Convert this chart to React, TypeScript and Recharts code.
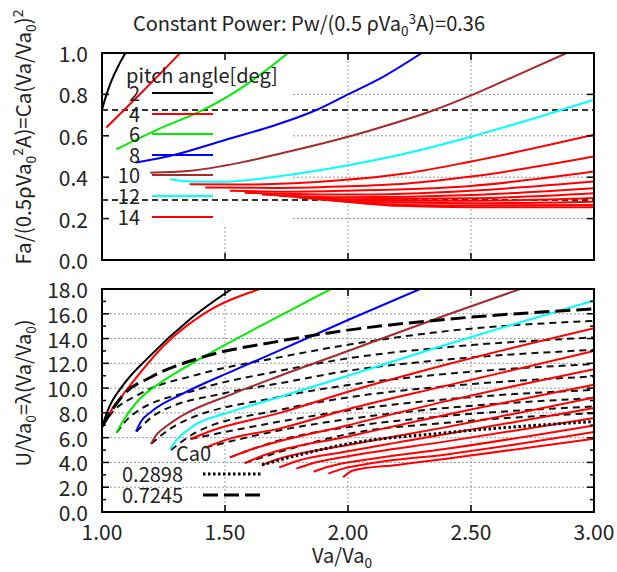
import React from 'react';
import { LineChart, Line, XAxis, YAxis, CartesianGrid, ReferenceLine } from 'recharts';

const FONT = "'Noto Sans CJK JP', 'Noto Sans', sans-serif";

// axes
const X_TICKS = [1.0, 1.5, 2.0, 2.5, 3.0];
const CA_TICKS = [0, 0.2, 0.4, 0.6, 0.8, 1.0];
const LAMBDA_TICKS = [0, 1, 2, 3, 4, 5, 6, 7, 8, 9, 10, 11, 12, 13, 14, 15, 16, 17, 18];
const LAMBDA_GRID = [2, 4, 6, 8, 10, 12, 14, 16];

// pitch angles, the legend only names the first seven
const PITCH_ANGLES = [2, 4, 6, 8, 10, 12, 14, 16, 18, 20, 22, 24, 26, 28, 30, 32];
const LEGEND_PITCH = [2, 4, 6, 8, 10, 12, 14];
const PITCH_COLORS = ['#000000', '#ff0000', '#00ee00', '#0000ff', '#a52a2a', '#00ffff',
  '#ff0000', '#ff0000', '#ff0000', '#ff0000', '#ff0000', '#ff0000', '#ff0000', '#ff0000', '#ff0000', '#ff0000'];

const CA0_LEVELS = [0.2898, 0.7245];

// Fa/(0.5 rho Va0^2 A) vs Va/Va0, one curve per pitch angle
const caCurves = [
  [[1.0, 0.726], [1.02, 0.806], [1.095, 1.0]],
  [[1.0175, 0.64], [1.17, 0.82], [1.318, 1.0]],
  [[1.058, 0.535], [1.223, 0.629], [1.413, 0.726], [1.59, 0.85], [1.756, 1.0]],
  [[1.138, 0.471], [1.3, 0.51], [1.5, 0.58], [1.7, 0.65], [1.874, 0.726], [2.0, 0.8], [2.15, 0.89], [2.3, 1.0]],
  [[1.196, 0.422], [1.35, 0.43], [1.494, 0.455], [1.765, 0.525], [2.0, 0.595], [2.144, 0.645], [2.354, 0.726], [2.51, 0.8], [2.672, 0.885], [2.889, 1.0]],
  [[1.277, 0.39], [1.36, 0.379], [1.5, 0.378], [1.72, 0.405], [2.0, 0.458], [2.239, 0.516], [2.503, 0.597], [2.781, 0.693], [3.0, 0.774]],
  [[1.356, 0.366], [1.6, 0.365], [1.968, 0.385], [2.239, 0.419], [2.5, 0.476], [3.0, 0.605]],
  [[1.42, 0.35], [1.7, 0.348], [1.968, 0.355], [2.24, 0.37], [2.5, 0.403], [3.0, 0.5]],
  [[1.52, 0.335], [1.75, 0.33], [2.0, 0.335], [2.5, 0.358], [3.0, 0.427]],
  [[1.58, 0.325], [2.0, 0.316], [2.5, 0.335], [3.0, 0.379]],
  [[1.65, 0.317], [2.0, 0.303], [2.5, 0.314], [3.0, 0.347]],
  [[1.72, 0.31], [2.0, 0.293], [2.5, 0.298], [3.0, 0.323]],
  [[1.79, 0.303], [2.0, 0.286], [2.5, 0.286], [3.0, 0.3]],
  [[1.86, 0.297], [2.05, 0.279], [2.5, 0.274], [3.0, 0.282]],
  [[1.92, 0.292], [2.1, 0.271], [2.5, 0.263], [3.0, 0.266]],
  [[1.98, 0.288], [2.2, 0.262], [2.5, 0.255], [3.0, 0.255]],
];

// U/Va0 vs Va/Va0, same pitch angles
const lambdaCurves = [
  [[1.0, 6.9], [1.03, 8.5], [1.088, 10.3], [1.19, 12.5], [1.36, 15.6], [1.527, 18]],
  [[1.018, 7.4], [1.04, 8.3], [1.086, 9.5], [1.255, 13.5], [1.418, 16.05], [1.642, 18]],
  [[1.058, 6.37], [1.087, 7.4], [1.147, 9.0], [1.25, 10.6], [1.392, 12.3], [1.724, 15.85], [1.93, 18]],
  [[1.138, 6.5], [1.16, 7.35], [1.2, 8.1], [1.323, 9.5], [1.527, 11.35], [1.724, 13.06], [2.0, 15.5], [2.293, 18]],
  [[1.199, 5.48], [1.22, 6.2], [1.26, 6.9], [1.323, 7.75], [1.527, 9.5], [1.724, 11.0], [2.0, 13.0], [2.4, 15.9], [2.7, 18]],
  [[1.276, 5.03], [1.3, 5.75], [1.34, 6.5], [1.392, 7.2], [1.5, 7.95], [1.724, 9.3], [2.0, 11.0], [2.375, 13.36], [2.687, 15.24], [3.0, 17.07]],
  [[1.36, 5.9], [1.45, 6.6], [1.724, 8.0], [2.0, 9.7], [2.4, 11.9], [3.0, 14.84]],
  [[1.42, 5.2], [1.5, 5.8], [1.724, 6.75], [2.0, 8.3], [2.4, 10.2], [3.0, 13.0]],
  [[1.52, 4.41], [1.6, 5.0], [2.0, 7.0], [2.4, 8.95], [3.0, 11.53]],
  [[1.58, 3.95], [1.66, 4.6], [2.0, 6.1], [2.4, 7.85], [3.0, 10.27]],
  [[1.65, 3.8], [1.72, 4.3], [2.0, 5.4], [2.4, 6.85], [3.0, 9.25]],
  [[1.72, 3.6], [1.79, 4.1], [2.0, 4.9], [2.4, 6.3], [3.0, 8.39]],
  [[1.79, 3.5], [1.85, 3.9], [2.0, 4.5], [2.4, 5.7], [3.0, 7.58]],
  [[1.86, 3.25], [1.92, 3.65], [2.1, 4.3], [2.4, 5.1], [3.0, 6.99]],
  [[1.92, 3.1], [1.98, 3.5], [2.1, 3.95], [2.4, 4.65], [3.0, 6.45]],
  [[1.98, 2.8], [2.02, 3.35], [2.2, 3.8], [2.4, 4.3], [3.0, 5.91]],
];

// constant Ca0 curves in the lower panel
const lambdaCa0High = [[1.0, 6.9], [1.087, 9.46], [1.2, 10.9], [1.392, 12.4], [1.724, 13.8], [2.0, 14.68], [2.4, 15.55], [3.0, 16.4]];
const lambdaCa0Low = [[1.65, 3.8], [1.8, 4.6], [2.0, 5.5], [2.4, 6.4], [3.0, 7.31]];
const lambdaCa0Mid = [
  [[1.0, 6.9], [1.04, 8.0], [1.15, 9.5], [1.39, 11.1], [1.724, 12.5], [2.0, 13.5], [2.4, 14.6], [3.0, 15.43]],
  [[1.06, 6.4], [1.12, 7.8], [1.39, 9.9], [1.724, 11.4], [2.0, 12.4], [2.4, 13.3], [3.0, 14.09]],
  [[1.14, 6.5], [1.22, 7.9], [1.5, 9.6], [1.724, 10.4], [2.0, 11.4], [2.4, 12.3], [3.0, 13.09]],
  [[1.2, 5.5], [1.3, 7.0], [1.724, 9.3], [2.0, 10.25], [2.4, 11.15], [3.0, 11.94]],
  [[1.28, 5.0], [1.38, 6.4], [1.724, 8.25], [2.0, 9.25], [2.4, 10.15], [3.0, 10.94]],
  [[1.36, 5.9], [1.724, 7.3], [2.0, 8.2], [2.4, 9.1], [3.0, 9.86]],
  [[1.42, 5.2], [1.724, 6.6], [2.0, 7.5], [2.4, 8.4], [3.0, 9.19]],
  [[1.52, 4.41], [1.724, 5.8], [2.0, 6.85], [2.4, 7.75], [3.0, 8.52]],
  [[1.58, 3.95], [1.8, 5.3], [2.0, 6.3], [2.4, 7.2], [3.0, 7.98]],
];

// layout (page pixels)
const W = 617;
const H = 572;
const PLOT_L = 102;
const PLOT_R = 594;
const TOP_T = 53;
const TOP_B = 260;
const BOT_T = 289;
const BOT_B = 512;
const KEY_R = 293; // the key box hides the grid in the upper panel
const KEY_B = 227;

const toPts = (pts: number[][]) => pts.map(([x, y]) => ({ x, y }));

const Sub = ({ children }: { children: React.ReactNode }) => (
  <span style={{ fontSize: '0.68em', position: 'relative', top: '0.35em' }}>{children}</span>
);
const Sup = ({ children }: { children: React.ReactNode }) => (
  <span style={{ fontSize: '0.68em', position: 'relative', top: '-0.55em' }}>{children}</span>
);

const tickText = { fontSize: 21, fontFamily: FONT, fill: '#222' };

const makeYTick = (major: (v: number) => boolean, fmt: (v: number) => string) => (props: any) => {
  const { payload } = props;
  const y = payload.coordinate ?? props.y;
  const v = payload.value;
  const isMajor = major(v);
  const len = isMajor ? 7 : 4;
  return (
    <g>
      <line x1={PLOT_L} x2={PLOT_L + len} y1={y} y2={y} stroke="#000" strokeWidth={1.5} />
      <line x1={PLOT_R - len} x2={PLOT_R} y1={y} y2={y} stroke="#000" strokeWidth={1.5} />
      {isMajor && (
        <text x={PLOT_L - 14} y={y} textAnchor="end" dominantBaseline="central" {...tickText}>
          {fmt(v)}
        </text>
      )}
    </g>
  );
};

const makeXTick = (top: number, bottom: number, withLabel: boolean) => (props: any) => {
  const { payload } = props;
  const x = payload.coordinate ?? props.x;
  return (
    <g>
      <line x1={x} x2={x} y1={bottom} y2={bottom - 7} stroke="#000" strokeWidth={1.5} />
      <line x1={x} x2={x} y1={top} y2={top + 7} stroke="#000" strokeWidth={1.5} />
      {withLabel && (
        <text x={x} y={bottom + 28} textAnchor="middle" {...tickText}>
          {payload.value.toFixed(2)}
        </text>
      )}
    </g>
  );
};

// grid of the upper panel, cut away where the key sits
const topHGrid = (p: any) => (
  <line key={`h${p.y1}`} x1={Math.max(p.x1, KEY_R)} x2={p.x2} y1={p.y1} y2={p.y2}
    stroke="#999" strokeDasharray="2 2" strokeWidth={1} />
);
const topVGrid = (p: any) => (
  <line key={`v${p.x1}`} x1={p.x1} x2={p.x2} y1={p.x1 < KEY_R ? KEY_B : p.y1} y2={p.y2}
    stroke="#999" strokeDasharray="2 2" strokeWidth={1} />
);

const frame = (top: number, bottom: number): React.CSSProperties => ({
  position: 'absolute', left: PLOT_L - 1, top: top - 1, width: PLOT_R - PLOT_L + 2,
  height: bottom - top + 2, border: '2px solid #000', boxSizing: 'border-box', pointerEvents: 'none',
});

const legendRowY = (i: number) => 93 + i * 20.6;

export default function App() {
  return (
    <div style={{ position: 'absolute', left: 0, top: 0, width: W, height: H, background: '#fff', fontFamily: FONT, color: '#222' }}>
      {/* upper panel */}
      <div style={{ position: 'absolute', left: 0, top: 0 }}>
        <LineChart width={W} height={H} margin={{ top: TOP_T, right: W - PLOT_R, left: PLOT_L - 60, bottom: H - TOP_B - 20 }}>
          <CartesianGrid horizontal={topHGrid} vertical={topVGrid} />
          <XAxis type="number" dataKey="x" domain={[1, 3]} ticks={X_TICKS} interval={0} height={20}
            axisLine={false} tickLine={false} tickSize={0} tick={makeXTick(TOP_T, TOP_B, false)} allowDataOverflow />
          <YAxis type="number" domain={[0, 1]} ticks={CA_TICKS} interval={0} width={60}
            axisLine={false} tickLine={false} tickSize={0} allowDataOverflow
            tick={makeYTick(() => true, (v) => v.toFixed(1))} />
          {CA0_LEVELS.map((c) => (
            <ReferenceLine key={c} y={c} stroke="#333" strokeWidth={2} strokeDasharray="6 4" />
          ))}
          {caCurves.map((pts, i) => (
            <Line key={PITCH_ANGLES[i]} data={toPts(pts)} dataKey="y" type="monotone" stroke={PITCH_COLORS[i]}
              strokeWidth={2} dot={false} activeDot={false} isAnimationActive={false} />
          ))}
        </LineChart>
      </div>

      {/* lower panel */}
      <div style={{ position: 'absolute', left: 0, top: 0 }}>
        <LineChart width={W} height={H} margin={{ top: BOT_T, right: W - PLOT_R, left: PLOT_L - 60, bottom: H - BOT_B - 40 }}>
          <CartesianGrid horizontalValues={LAMBDA_GRID} verticalValues={[1.5, 2.0, 2.5]}
            stroke="#999" strokeDasharray="2 2" />
          <XAxis type="number" dataKey="x" domain={[1, 3]} ticks={X_TICKS} interval={0} height={40}
            axisLine={false} tickLine={false} tickSize={0} tick={makeXTick(BOT_T, BOT_B, true)} allowDataOverflow />
          <YAxis type="number" domain={[0, 18]} ticks={LAMBDA_TICKS} interval={0} width={60}
            axisLine={false} tickLine={false} tickSize={0} allowDataOverflow
            tick={makeYTick((v) => v % 2 === 0, (v) => v.toFixed(1))} />
          {lambdaCa0Mid.map((pts, i) => (
            <Line key={`m${i}`} data={toPts(pts)} dataKey="y" type="monotone" stroke="#111"
              strokeWidth={2} strokeDasharray="7 5" dot={false} activeDot={false} isAnimationActive={false} />
          ))}
          {lambdaCurves.map((pts, i) => (
            <Line key={PITCH_ANGLES[i]} data={toPts(pts)} dataKey="y" type="monotone" stroke={PITCH_COLORS[i]}
              strokeWidth={2} dot={false} activeDot={false} isAnimationActive={false} />
          ))}
          <Line data={toPts(lambdaCa0Low)} dataKey="y" type="monotone" stroke="#000"
            strokeWidth={3} strokeDasharray="2.5 2.5" dot={false} activeDot={false} isAnimationActive={false} />
          <Line data={toPts(lambdaCa0High)} dataKey="y" type="monotone" stroke="#000"
            strokeWidth={3} strokeDasharray="15 6" dot={false} activeDot={false} isAnimationActive={false} />
        </LineChart>
      </div>

      <div style={frame(TOP_T, TOP_B)} />
      <div style={frame(BOT_T, BOT_B)} />

      {/* title */}
      <div style={{ position: 'absolute', left: 309, top: 22, transform: 'translate(-50%, -50%)', whiteSpace: 'nowrap', fontSize: 20 }}>
        Constant Power: Pw/(0.5 ρVa<Sub>0</Sub><Sup>3</Sup>A)=0.36
      </div>

      {/* axis titles */}
      <div style={{ position: 'absolute', left: 22, top: 137, transform: 'translate(-50%, -50%) rotate(-90deg)', whiteSpace: 'nowrap', fontSize: 20.5 }}>
        Fa/(0.5ρVa<Sub>0</Sub><Sup>2</Sup>A)=Ca(Va/Va<Sub>0</Sub>)<Sup>2</Sup>
      </div>
      <div style={{ position: 'absolute', left: 22, top: 393, transform: 'translate(-50%, -50%) rotate(-90deg)', whiteSpace: 'nowrap', fontSize: 20 }}>
        U/Va<Sub>0</Sub>=λ(Va/Va<Sub>0</Sub>)
      </div>
      <div style={{ position: 'absolute', left: 342, top: 554, transform: 'translate(-50%, -50%)', whiteSpace: 'nowrap', fontSize: 20 }}>
        Va/Va<Sub>0</Sub>
      </div>

      {/* pitch angle key */}
      <div style={{ position: 'absolute', left: 126, top: 74, transform: 'translateY(-50%)', whiteSpace: 'nowrap', fontSize: 20 }}>
        pitch angle[deg]
      </div>
      {LEGEND_PITCH.map((p, i) => (
        <React.Fragment key={p}>
          <div style={{ position: 'absolute', right: W - 140, top: legendRowY(i), transform: 'translateY(-50%)', fontSize: 20, lineHeight: 1 }}>
            {p}
          </div>
          <div style={{ position: 'absolute', left: 152, top: legendRowY(i) - 1, width: 61, height: 0, borderTop: `2px solid ${PITCH_COLORS[i]}` }} />
        </React.Fragment>
      ))}

      {/* Ca0 key */}
      <div style={{ position: 'absolute', left: 176, top: 453, transform: 'translateY(-50%)', fontSize: 20, lineHeight: 1 }}>Ca0</div>
      {CA0_LEVELS.map((c, i) => (
        <React.Fragment key={c}>
          <div style={{ position: 'absolute', left: 122, top: 474 + i * 20.5, transform: 'translateY(-50%)', fontSize: 20, lineHeight: 1 }}>
            {c.toFixed(4)}
          </div>
          <svg style={{ position: 'absolute', left: 203, top: 470 + i * 20.5 }} width={62} height={8}>
            <line x1={0} x2={60} y1={4} y2={4} stroke="#000" strokeWidth={3} strokeDasharray={i === 0 ? '2.5 2.5' : '15 6'} />
          </svg>
        </React.Fragment>
      ))}
    </div>
  );
}
